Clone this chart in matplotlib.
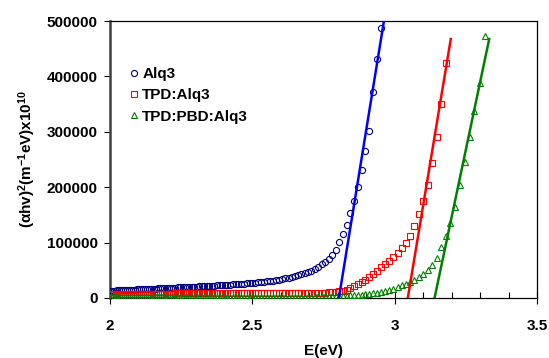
import matplotlib
matplotlib.use("Agg")
import matplotlib.pyplot as plt
from matplotlib.ticker import MultipleLocator

plt.rcParams['font.family'] = ['Liberation Sans', 'DejaVu Sans']
plt.rcParams['mathtext.fontset'] = 'custom'
plt.rcParams['mathtext.rm'] = 'Liberation Sans:bold'
plt.rcParams['mathtext.bf'] = 'Liberation Sans:bold'
plt.rcParams['mathtext.it'] = 'Liberation Sans:bold'

# photon energy grid (eV)
energy_eV = [
    2.000, 2.006, 2.013, 2.020, 2.026, 2.033, 2.039, 2.046, 2.053, 2.060,
    2.067, 2.074, 2.081, 2.088, 2.095, 2.102, 2.109, 2.116, 2.123, 2.131,
    2.138, 2.145, 2.153, 2.160, 2.168, 2.175, 2.183, 2.191, 2.199, 2.206,
    2.214, 2.222, 2.230, 2.238, 2.246, 2.255, 2.263, 2.271, 2.279, 2.288,
    2.296, 2.305, 2.313, 2.322, 2.331, 2.340, 2.348, 2.357, 2.366, 2.375,
    2.385, 2.394, 2.403, 2.412, 2.422, 2.431, 2.441, 2.451, 2.460, 2.470,
    2.480, 2.490, 2.500, 2.510, 2.520, 2.531, 2.541, 2.551, 2.562, 2.573,
    2.583, 2.594, 2.605, 2.616, 2.627, 2.638, 2.650, 2.661, 2.672, 2.684,
    2.696, 2.707, 2.719, 2.731, 2.743, 2.756, 2.768, 2.780, 2.793, 2.805,
    2.818, 2.831, 2.844, 2.857, 2.870, 2.884, 2.897, 2.911, 2.925, 2.938,
    2.952, 2.967, 2.981, 2.995, 3.010, 3.024, 3.039, 3.054, 3.069, 3.085,
    3.100, 3.116, 3.131, 3.147, 3.163, 3.179, 3.196, 3.212, 3.229, 3.246,
    3.263, 3.280, 3.298, 3.316,
]

alq3 = [
    13000, 13100, 13300, 13500, 13600, 13800, 13900, 14100, 14300, 14400,
    14600, 14800, 15000, 15200, 15400, 15500, 15700, 15900, 16100, 16300,
    16400, 16600, 16800, 17000, 17200, 17400, 17600, 17800, 18000, 18200,
    18400, 18600, 18800, 19000, 19200, 19500, 19700, 19900, 20100, 20300,
    20500, 20700, 21000, 21200, 21500, 21700, 22000, 22200, 22500, 22800,
    23100, 23400, 23700, 24000, 24300, 24600, 25000, 25300, 25700, 26000,
    26400, 26800, 27200, 27700, 28200, 28700, 29300, 30000, 30700, 31500,
    32300, 33200, 34200, 35300, 36500, 37800, 39300, 41000, 42800, 44800,
    47000, 49500, 52500, 56000, 60500, 65500, 71000, 78000, 87000, 101000,
    116000, 132000, 153000, 175000, 201000, 231000, 266000, 302000, 372000, 431000,
    487000,
]

tpd_alq3 = [
    7500, 7500, 7500, 7600, 7600, 7600, 7600, 7700, 7700, 7700,
    7700, 7700, 7800, 7800, 7800, 7800, 7800, 7900, 7900, 7900,
    7900, 7900, 8000, 8000, 8000, 8000, 8000, 8100, 8100, 8100,
    8100, 8100, 8200, 8200, 8200, 8200, 8200, 8300, 8300, 8300,
    8300, 8300, 8400, 8400, 8400, 8400, 8400, 8500, 8500, 8500,
    8500, 8500, 8600, 8600, 8600, 8600, 8700, 8700, 8700, 8700,
    8800, 8800, 8800, 8800, 8800, 8800, 8900, 8900, 8900, 8900,
    8900, 8900, 9000, 9000, 9000, 9000, 9000, 9000, 9000, 9100,
    9100, 9200, 9300, 9400, 9600, 9800, 10100, 10500, 11100, 11900,
    13200, 15300, 18500, 22000, 25000, 28800, 33000, 38500, 44000, 49500,
    55500, 61500, 67500, 74000, 82000, 90000, 99000, 112500, 130000, 151000,
    175000, 204000, 243000, 290000, 350000, 425000,
]

tpd_pbd_alq3 = [
    1000, 1000, 1000, 1000, 1000, 1100, 1100, 1100, 1100, 1100,
    1100, 1100, 1100, 1100, 1100, 1200, 1200, 1200, 1200, 1200,
    1200, 1200, 1200, 1200, 1200, 1200, 1300, 1300, 1300, 1300,
    1300, 1300, 1300, 1300, 1300, 1300, 1300, 1400, 1400, 1400,
    1400, 1400, 1400, 1400, 1400, 1400, 1400, 1400, 1400, 1500,
    1500, 1500, 1500, 1500, 1500, 1500, 1500, 1500, 1500, 1500,
    1500, 1600, 1600, 1700, 1700, 1800, 1800, 1900, 1900, 2000,
    2000, 2100, 2100, 2200, 2200, 2300, 2300, 2400, 2400, 2500,
    2600, 2700, 2800, 2900, 3000, 3100, 3200, 3300, 3400, 3600,
    3800, 4200, 4600, 5000, 5500, 6000, 6500, 7300, 8200, 9300,
    10800, 12700, 14800, 17000, 20000, 23000, 26000, 29500, 33000, 37500,
    43000, 50500, 59500, 72500, 91500, 111500, 135000, 165000, 203500, 245000,
    290000, 337500, 387500, 473500,
]

# linear fits (band-gap extrapolation lines)
fit_alq3_E = [2.804, 2.966]
fit_alq3_y = [0, 512000]
fit_tpd_E = [3.046, 3.197]
fit_tpd_y = [0, 467500]
fit_pbd_E = [3.140, 3.332]
fit_pbd_y = [0, 467500]

labels = ["Alq3", "TPD:Alq3", "TPD:PBD:Alq3"]

fig = plt.figure(figsize=(5.49, 3.58), dpi=100)
ax = fig.add_axes([0.2004, 0.1676, 0.7778, 0.7737])

ms = 4.4
mew = 0.8
ax.plot(energy_eV[:len(alq3)], alq3, linestyle='none', marker='o', ms=ms,
        mfc='none', mec='#000080', mew=mew, label=labels[0], zorder=3)
ax.plot(energy_eV[:len(tpd_alq3)], tpd_alq3, linestyle='none', marker='s', ms=ms,
        mfc='none', mec='#FF0000', mew=mew, label=labels[1], zorder=3)
ax.plot(energy_eV[:len(tpd_pbd_alq3)], tpd_pbd_alq3, linestyle='none', marker='^', ms=ms,
        mfc='none', mec='#008000', mew=mew, label=labels[2], zorder=3)

ax.plot(fit_alq3_E, fit_alq3_y, color='#0000FF', lw=1.8, zorder=4)
ax.plot(fit_tpd_E, fit_tpd_y, color='#FF0000', lw=1.8, zorder=4)
ax.plot(fit_pbd_E, fit_pbd_y, color='#008000', lw=1.8, zorder=4)

ax.set_xlim(2, 3.5)
ax.set_ylim(0, 500000)
ax.xaxis.set_major_locator(MultipleLocator(0.5))
ax.xaxis.set_minor_locator(MultipleLocator(0.1))
ax.yaxis.set_major_locator(MultipleLocator(100000))
ax.set_xticks([2, 2.5, 3, 3.5])
ax.set_xticklabels(["2", "2.5", "3", "3.5"])

ax.tick_params(axis='x', which='major', direction='inout', length=8, width=0.8,
               pad=11, labelsize=11)
ax.tick_params(axis='x', which='minor', direction='in', length=4, width=0.8)
ax.tick_params(axis='y', which='major', direction='out', length=4, width=0.8,
               pad=5, labelsize=11)
for lab in ax.get_xticklabels() + ax.get_yticklabels():
    lab.set_fontweight('bold')

for s in ['top', 'right', 'bottom']:
    ax.spines[s].set_linewidth(0.9)
    ax.spines[s].set_color('black')
ax.spines['left'].set_linewidth(1.8)
ax.spines['left'].set_color('#404040')

ax.set_xlabel("E(eV)", fontsize=11, fontweight='bold', labelpad=8)
ax.set_ylabel(r"(αhv)$^{2}$(m$^{-1}$eV)x10$^{10}$", fontsize=11,
              fontweight='bold', labelpad=6)

leg = ax.legend(loc='upper left', bbox_to_anchor=(0.02, 0.872), frameon=False,
                handlelength=0.6, handletextpad=0.25, labelspacing=0.48,
                borderpad=0.2, prop={'weight': 'bold', 'size': 11})

fig.savefig("out.png", dpi=100)
